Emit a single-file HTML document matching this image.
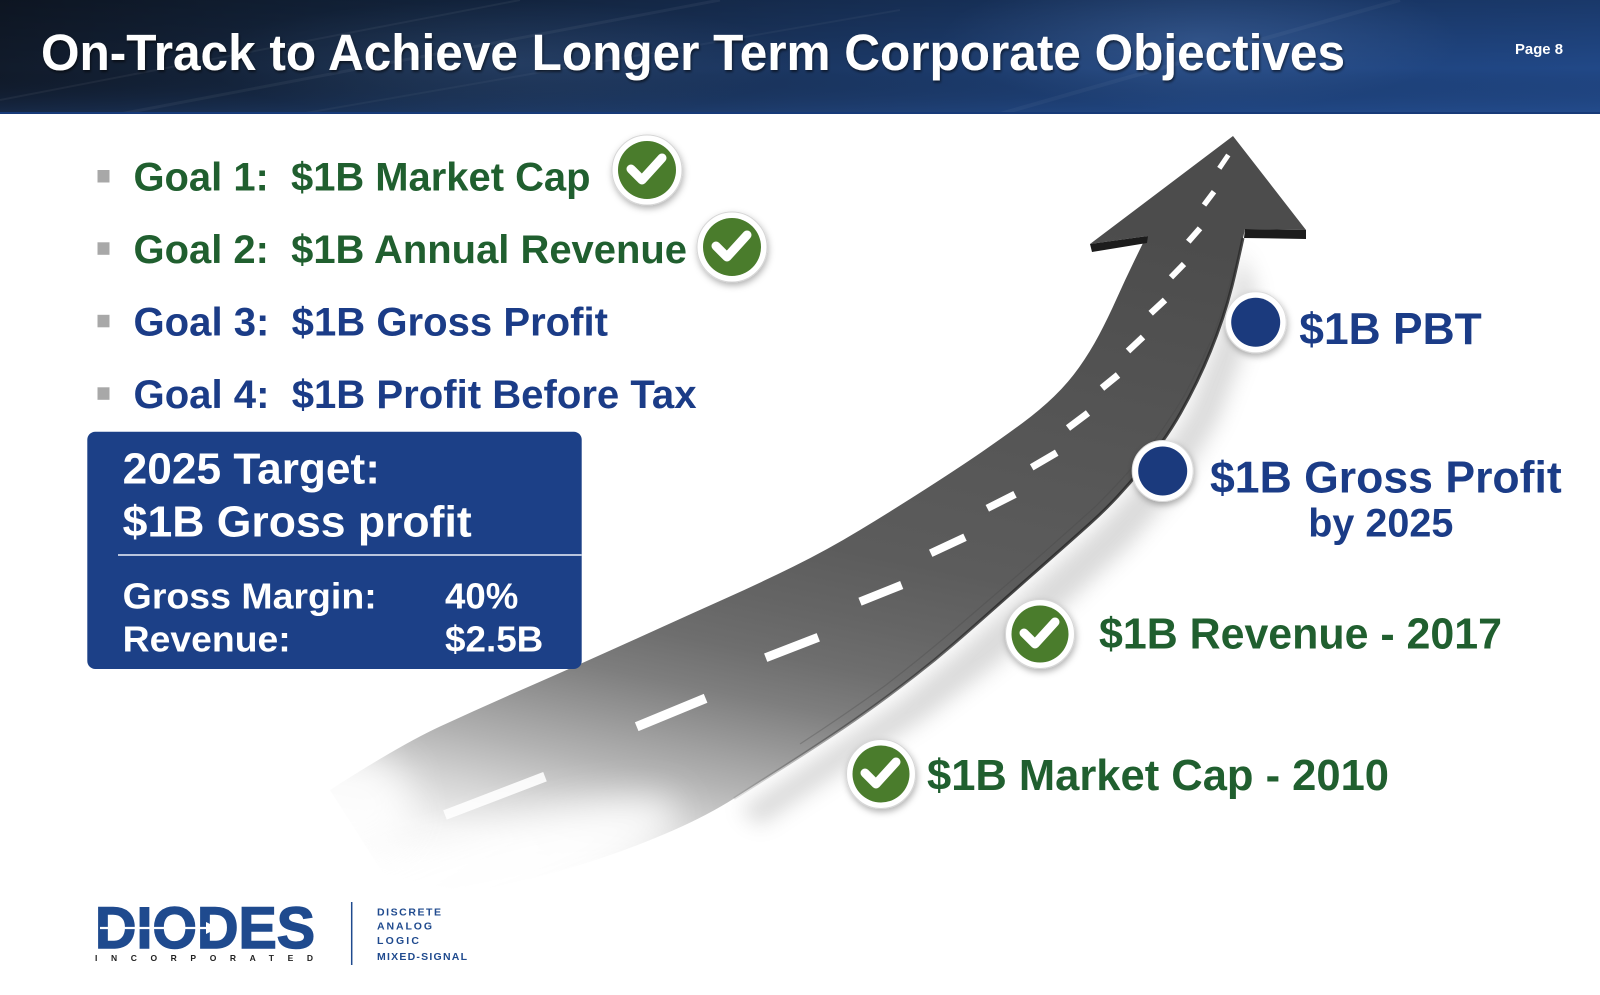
<!DOCTYPE html>
<html>
<head>
<meta charset="utf-8">
<style>
html,body{margin:0;padding:0;background:#ffffff;}
svg{display:block;}
text{font-family:"Liberation Sans",Arial,sans-serif;font-weight:bold;white-space:pre;}
</style>
</head>
<body>
<svg width="1600" height="995" viewBox="0 0 1600 995" xmlns="http://www.w3.org/2000/svg">
<defs>
  <linearGradient id="hdr" x1="0" y1="0" x2="1" y2="0">
    <stop offset="0" stop-color="#111b2b"/>
    <stop offset="0.25" stop-color="#162a47"/>
    <stop offset="0.5" stop-color="#1b3763"/>
    <stop offset="0.75" stop-color="#1e427b"/>
    <stop offset="1" stop-color="#214887"/>
  </linearGradient>
  <linearGradient id="hdrv" x1="0" y1="0" x2="0" y2="1">
    <stop offset="0" stop-color="#000" stop-opacity="0.22"/>
    <stop offset="0.6" stop-color="#000" stop-opacity="0"/>
    <stop offset="1" stop-color="#2a57a0" stop-opacity="0.25"/>
  </linearGradient>
  <radialGradient id="glow" cx="0.5" cy="0.5" r="0.5">
    <stop offset="0" stop-color="#6f95cf" stop-opacity="0.25"/>
    <stop offset="1" stop-color="#6f95cf" stop-opacity="0"/>
  </radialGradient>
  <linearGradient id="road" gradientUnits="userSpaceOnUse" x1="0" y1="800" x2="153.8" y2="30.8">
    <stop offset="0" stop-color="#ffffff"/>
    <stop offset="0.075" stop-color="#f2f2f2"/>
    <stop offset="0.1375" stop-color="#d4d4d4"/>
    <stop offset="0.2" stop-color="#b2b2b2"/>
    <stop offset="0.2625" stop-color="#959595"/>
    <stop offset="0.315" stop-color="#7e7e7e"/>
    <stop offset="0.375" stop-color="#6e6e6e"/>
    <stop offset="0.44" stop-color="#656565"/>
    <stop offset="0.525" stop-color="#5c5c5c"/>
    <stop offset="1" stop-color="#4c4c4c"/>
  </linearGradient>
  <linearGradient id="edge" gradientUnits="userSpaceOnUse" x1="700" y1="820" x2="1000" y2="600">
    <stop offset="0" stop-color="#333" stop-opacity="0"/>
    <stop offset="0.5" stop-color="#333" stop-opacity="0.55"/>
    <stop offset="1" stop-color="#2a2a2a" stop-opacity="0.85"/>
  </linearGradient>
  <filter id="ds" x="-50%" y="-50%" width="200%" height="200%">
    <feDropShadow dx="1" dy="3" stdDeviation="3.5" flood-color="#000" flood-opacity="0.3"/>
  </filter>
  <filter id="blur" x="-20%" y="-20%" width="140%" height="140%">
    <feGaussianBlur stdDeviation="10"/>
  </filter>
  <filter id="blur2" x="-50%" y="-50%" width="200%" height="200%">
    <feGaussianBlur stdDeviation="18"/>
  </filter>
  <filter id="tsh" x="-5%" y="-20%" width="110%" height="140%">
    <feDropShadow dx="1" dy="2" stdDeviation="1.2" flood-color="#000" flood-opacity="0.55"/>
  </filter>
</defs>

<!-- Header -->
<rect x="0" y="0" width="1600" height="114" fill="url(#hdr)"/>
<rect x="0" y="0" width="1600" height="114" fill="url(#hdrv)"/>
<ellipse cx="1200" cy="40" rx="260" ry="70" fill="url(#glow)"/>
<ellipse cx="500" cy="60" rx="300" ry="60" fill="url(#glow)" opacity="0.6"/>
<g stroke="#ffffff" fill="none">
  <line x1="0" y1="100" x2="520" y2="0" stroke-opacity="0.05" stroke-width="2"/>
  <line x1="120" y1="114" x2="720" y2="0" stroke-opacity="0.05" stroke-width="3"/>
  <line x1="300" y1="114" x2="900" y2="10" stroke-opacity="0.04" stroke-width="2"/>
  <line x1="1000" y1="114" x2="1400" y2="0" stroke-opacity="0.04" stroke-width="4"/>
</g>
<rect x="0" y="112" width="1600" height="2" fill="#173a78"/>

<text x="41" y="70" font-size="51" fill="#ffffff" textLength="1304" lengthAdjust="spacingAndGlyphs" filter="url(#tsh)">On-Track to Achieve Longer Term Corporate Objectives</text>
<text x="1515" y="54" font-size="15" fill="#ffffff" textLength="48" lengthAdjust="spacingAndGlyphs">Page 8</text>

<!-- Goals -->
<g fill="#a8a8a8">
  <rect x="97.5" y="170" width="12" height="12.5"/>
  <rect x="97.5" y="242.3" width="12" height="12.5"/>
  <rect x="97.5" y="314.8" width="12" height="12.5"/>
  <rect x="97.5" y="387.3" width="12" height="12.5"/>
</g>
<text x="133.5" y="190.7" font-size="40" fill="#205f2f" textLength="457" lengthAdjust="spacingAndGlyphs">Goal 1:  $1B Market Cap</text>
<text x="133.5" y="263" font-size="40" fill="#205f2f" textLength="553.5" lengthAdjust="spacingAndGlyphs">Goal 2:  $1B Annual Revenue</text>
<text x="133.5" y="335.5" font-size="40" fill="#1b3c87" textLength="474.5" lengthAdjust="spacingAndGlyphs">Goal 3:  $1B Gross Profit</text>
<text x="133.5" y="408" font-size="40" fill="#1b3c87" textLength="563" lengthAdjust="spacingAndGlyphs">Goal 4:  $1B Profit Before Tax</text>

<!-- Road shadow -->
<path d="M1240,250 L1232,300 L1215,345 L1190,410 L1150,470 L1100,525 L1030,588 L960,650 L900,700 L820,755 L740,810 L760,825 L840,772 L925,718 L995,665 L1065,605 L1130,545 L1180,485 L1218,420 L1244,350 L1256,290 Z" fill="#7a7a7a" opacity="0.28" filter="url(#blur)"/>

<!-- Road -->
<path d="M1233,136 L1306,230 L1245,229 L1243,238
Q1236,270 1232,286 Q1228,302 1222.5,318.5 Q1217,335 1210.5,351 Q1204,367 1196.5,382.5 Q1189,398 1180.5,413 Q1172,428 1162,442 Q1152,456 1141,469.5 Q1130,483 1117.5,496.5 Q1105,510 1090,523.5 Q1075,537 1058.5,551.5 Q1042,566 1025,581 Q1008,596 990,612 Q972,628 953.5,644 Q935,660 915,675.5 Q895,691 875,705.5 Q855,720 832.5,735 Q810,750 785,766 Q760,782 734,798.5 Q708,815 674,830 Q640,845 600,858.5 Q560,872 515,882 Q470,892 435,896 L400,900
L330,790
Q400,745 440,726.5 Q480,708 520,690.5 Q560,673 593.5,658 Q627,643 660,628 Q693,613 726.5,598 Q760,583 793.5,566.5 Q827,550 860,530 Q893,510 926.5,488.5 Q960,467 982.5,451.5 Q1005,436 1022.5,423 Q1040,410 1054,396.5 Q1068,383 1079,367.5 Q1090,352 1099,335 Q1108,318 1116.5,299 Q1125,280 1134,261.5 L1143,243 L1148,236 L1090,244 Z" fill="url(#road)"/>

<!-- soften bottom-left tail -->
<ellipse cx="450" cy="885" rx="240" ry="45" transform="rotate(-18 450 885)" fill="#ffffff" opacity="0.9" filter="url(#blur2)"/>
<ellipse cx="335" cy="805" rx="80" ry="55" fill="#ffffff" opacity="0.85" filter="url(#blur2)"/>

<!-- lower edge thickness -->
<path d="M1243,238 Q1236,270 1232,286 Q1228,302 1222.5,318.5 Q1217,335 1210.5,351 Q1204,367 1196.5,382.5 Q1189,398 1180.5,413 Q1172,428 1162,442 Q1152,456 1141,469.5 Q1130,483 1117.5,496.5 Q1105,510 1090,523.5 Q1075,537 1058.5,551.5 Q1042,566 1025,581 Q1008,596 990,612 Q972,628 953.5,644 Q935,660 915,675.5 Q895,691 875,705.5 Q855,720 832.5,735 Q810,750 785,766 Q760,782 734,798.5" fill="none" stroke="url(#edge)" stroke-width="3"/>
<path d="M1234,268 Q1226,300 1214,334 Q1200,366 1184,396 Q1166,426 1145,453 Q1122,480 1096,506 Q1066,533 1033,562 Q998,592 962,623 Q926,654 886,685 Q846,714 800,744" fill="none" stroke="#444" stroke-opacity="0.3" stroke-width="1.2"/>

<!-- arrow barb thickness -->
<polygon points="1090,244 1148,236 1147,243 1092,252" fill="#1c1c1c"/>
<polygon points="1245,229 1306,230 1306,239 1244,238" fill="#1c1c1c"/>

<!-- dashes -->
<g stroke="#ffffff" stroke-linecap="butt">
  <line x1="1219.3" y1="168.3" x2="1228.3" y2="155" stroke-width="5"/>
  <line x1="1204" y1="205" x2="1214" y2="191.7" stroke-width="5.5"/>
  <line x1="1188.3" y1="241.7" x2="1200" y2="228.3" stroke-width="6"/>
  <line x1="1171" y1="277.3" x2="1184" y2="264" stroke-width="6"/>
  <line x1="1150.7" y1="313.3" x2="1165" y2="300" stroke-width="6.5"/>
  <line x1="1128" y1="351" x2="1143" y2="337" stroke-width="6.5"/>
  <line x1="1102" y1="388" x2="1118" y2="375" stroke-width="7"/>
  <line x1="1068" y1="428" x2="1088" y2="413" stroke-width="7"/>
  <line x1="1031.7" y1="467.3" x2="1056.7" y2="452.7" stroke-width="7"/>
  <line x1="987.3" y1="508.3" x2="1015" y2="494.3" stroke-width="7.5"/>
  <line x1="930.7" y1="553.3" x2="965" y2="537.3" stroke-width="8"/>
  <line x1="860" y1="601.7" x2="901.7" y2="585" stroke-width="8.5"/>
  <line x1="765.7" y1="657.7" x2="818.3" y2="637.3" stroke-width="9"/>
  <line x1="636.7" y1="726.7" x2="705.6" y2="698.3" stroke-width="9.5"/>
  <line x1="445" y1="815" x2="545" y2="776.7" stroke-width="10" opacity="0.9"/>
</g>

<!-- Target box -->
<rect x="87.3" y="431.7" width="494.4" height="237.3" rx="8" ry="8" fill="#1c4087"/>
<line x1="118" y1="555" x2="581.7" y2="555" stroke="#b9c5dd" stroke-width="2"/>
<text x="122.7" y="483.3" font-size="44" fill="#ffffff" textLength="257.3" lengthAdjust="spacingAndGlyphs">2025 Target:</text>
<text x="122.7" y="536.7" font-size="44" fill="#ffffff" textLength="349" lengthAdjust="spacingAndGlyphs">$1B Gross profit</text>
<text x="122.7" y="608.3" font-size="36" fill="#ffffff" textLength="254" lengthAdjust="spacingAndGlyphs">Gross Margin:</text>
<text x="122.7" y="651.7" font-size="36" fill="#ffffff" textLength="168" lengthAdjust="spacingAndGlyphs">Revenue:</text>
<text x="445" y="608.3" font-size="36" fill="#ffffff" textLength="73.3" lengthAdjust="spacingAndGlyphs">40%</text>
<text x="445" y="651.7" font-size="36" fill="#ffffff" textLength="98.3" lengthAdjust="spacingAndGlyphs">$2.5B</text>

<!-- Check circles -->
<g>
  <circle cx="647" cy="170" r="35" fill="#ffffff" stroke="#d6d6d6" stroke-width="1" filter="url(#ds)"/>
  <circle cx="647" cy="170" r="29" fill="#4a7c2c"/>
  <polyline points="631,169 642,180 662,158" fill="none" stroke="#ffffff" stroke-width="9" stroke-linecap="round" stroke-linejoin="round"/>

  <circle cx="732" cy="247" r="35" fill="#ffffff" stroke="#d6d6d6" stroke-width="1" filter="url(#ds)"/>
  <circle cx="732" cy="247" r="29" fill="#4a7c2c"/>
  <polyline points="716,246 727,257 747,235" fill="none" stroke="#ffffff" stroke-width="9" stroke-linecap="round" stroke-linejoin="round"/>

  <circle cx="1040" cy="634" r="34.5" fill="#ffffff" stroke="#d6d6d6" stroke-width="1" filter="url(#ds)"/>
  <circle cx="1040" cy="634" r="28.5" fill="#4a7c2c"/>
  <polyline points="1024,633 1035,644 1055,622" fill="none" stroke="#ffffff" stroke-width="9" stroke-linecap="round" stroke-linejoin="round"/>

  <circle cx="881" cy="774" r="34.5" fill="#ffffff" stroke="#d6d6d6" stroke-width="1" filter="url(#ds)"/>
  <circle cx="881" cy="774" r="28.5" fill="#4a7c2c"/>
  <polyline points="865,773 876,784 896,762" fill="none" stroke="#ffffff" stroke-width="9" stroke-linecap="round" stroke-linejoin="round"/>
</g>

<!-- Navy dots -->
<circle cx="1255.7" cy="322.3" r="30.5" fill="#ffffff" stroke="#dcdcdc" stroke-width="1" filter="url(#ds)"/>
<circle cx="1255.7" cy="322.3" r="24.5" fill="#1b3a7d"/>
<circle cx="1162.7" cy="471" r="30.5" fill="#ffffff" stroke="#dcdcdc" stroke-width="1" filter="url(#ds)"/>
<circle cx="1162.7" cy="471" r="24.5" fill="#1b3a7d"/>

<!-- Right labels -->
<text x="1299.3" y="344" font-size="44.5" fill="#1b3c87" textLength="182.4" lengthAdjust="spacingAndGlyphs">$1B PBT</text>
<text x="1210" y="492.3" font-size="44.5" fill="#1b3c87" textLength="351.7" lengthAdjust="spacingAndGlyphs">$1B Gross Profit</text>
<text x="1308.3" y="536.7" font-size="40" fill="#1b3c87" textLength="145" lengthAdjust="spacingAndGlyphs">by 2025</text>
<text x="1099" y="648.3" font-size="44" fill="#205f2f" textLength="403" lengthAdjust="spacingAndGlyphs">$1B Revenue - 2017</text>
<text x="927" y="790" font-size="44" fill="#205f2f" textLength="462" lengthAdjust="spacingAndGlyphs">$1B Market Cap - 2010</text>

<!-- Logo -->
<text x="95" y="948" font-size="58" fill="#1f4a8e" textLength="220" lengthAdjust="spacingAndGlyphs" stroke="#1f4a8e" stroke-width="1.5">DIODES</text>
<line x1="100" y1="928" x2="212" y2="928" stroke="#ffffff" stroke-width="2.2"/>
<polygon points="206,922 218,928 206,934" fill="#ffffff"/>
<text x="95" y="961" font-size="8.5" fill="#222" textLength="218" lengthAdjust="spacing">INCORPORATED</text>
<line x1="351.7" y1="902" x2="351.7" y2="965" stroke="#1f4a8e" stroke-width="1.5"/>
<g fill="#1f4a8e">
  <text x="377" y="915.5" font-size="10.5" textLength="64" lengthAdjust="spacing">DISCRETE</text>
  <text x="377" y="929.5" font-size="10.5" textLength="55" lengthAdjust="spacing">ANALOG</text>
  <text x="377" y="944" font-size="10.5" textLength="42" lengthAdjust="spacing">LOGIC</text>
  <text x="377" y="960" font-size="10.5" textLength="90" lengthAdjust="spacing">MIXED-SIGNAL</text>
</g>
</svg>
</body>
</html>
